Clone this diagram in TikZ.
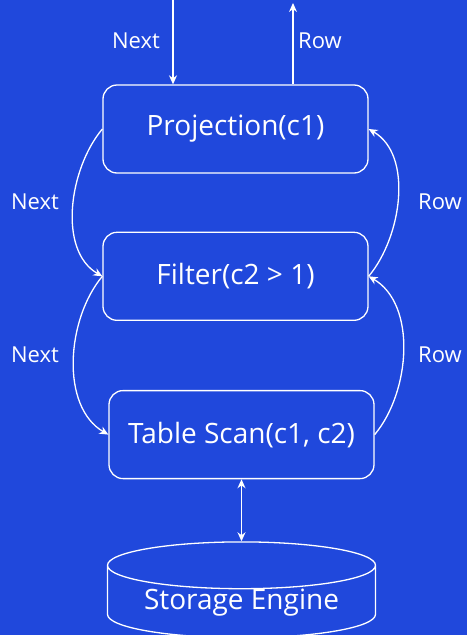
\documentclass[tikz,border=0pt]{standalone}
\usepackage{fontspec}
\setmainfont{Open Sans}
\usepackage{tikz}
\usetikzlibrary{arrows.meta, positioning, shapes.geometric}
\definecolor{slideblue}{RGB}{32,72,220}

\begin{document}
\begin{tikzpicture}[x=1pt, y=1pt, line width=1.3pt, white,
    opbox/.style={draw=white, rounded corners=14pt, minimum width=265pt, minimum height=88pt, font=\fontsize{28}{33}\selectfont},
    lbl/.style={font=\fontsize{22}{26}\selectfont},
    >={Stealth[length=9pt, width=8pt]}]
        \fill[slideblue] (0,0) rectangle (467,-635);
        \useasboundingbox (0,0) rectangle (467,-635);

        \node[opbox] (proj) at (235.5,-129) {Projection(c1)};
        \node[opbox, below=58pt of proj] (filter) {Filter(c2 > 1)};
        \node[opbox, below=69pt of filter, xshift=6pt] (scan) {Table Scan(c1, c2)};
        \node[draw=white, cylinder, shape border rotate=90, aspect=0.24, inner sep=0pt, text height=20pt, text depth=5pt,
              minimum width=268pt, minimum height=78pt,
              font=\fontsize{28}{33}\selectfont, below=62pt of scan] (store) {Storage Engine};

        \coordinate (nextin) at (173,0);
        \coordinate (rowout) at (293,-3);
        \draw[->] (nextin) -- (nextin |- proj.north);
        \draw[->] (rowout |- proj.north) -- (rowout);
        \node[lbl] (next0) at (136,-41) {Next};
        \node[lbl] (row0) at (320,-41) {Row};

        \draw[->] (proj.west) to[out=-130, in=150, looseness=0.9] (filter.west);
        \draw[->] (filter.west) to[out=-130, in=150, looseness=0.9] (scan.west);
        \draw[->] (filter.east) to[out=50, in=-30, looseness=0.9] (proj.east);
        \draw[->] (scan.east) to[out=50, in=-30, looseness=0.9] (filter.east);
        \node[lbl] (next1) at (35,-202) {Next};
        \node[lbl] (next2) at (35,-355) {Next};
        \node[lbl] (row1) at (440,-202) {Row};
        \node[lbl] (row2) at (440,-355) {Row};

        \draw[<->] (scan.south) -- (store.north);
        \end{tikzpicture}
\end{document}
